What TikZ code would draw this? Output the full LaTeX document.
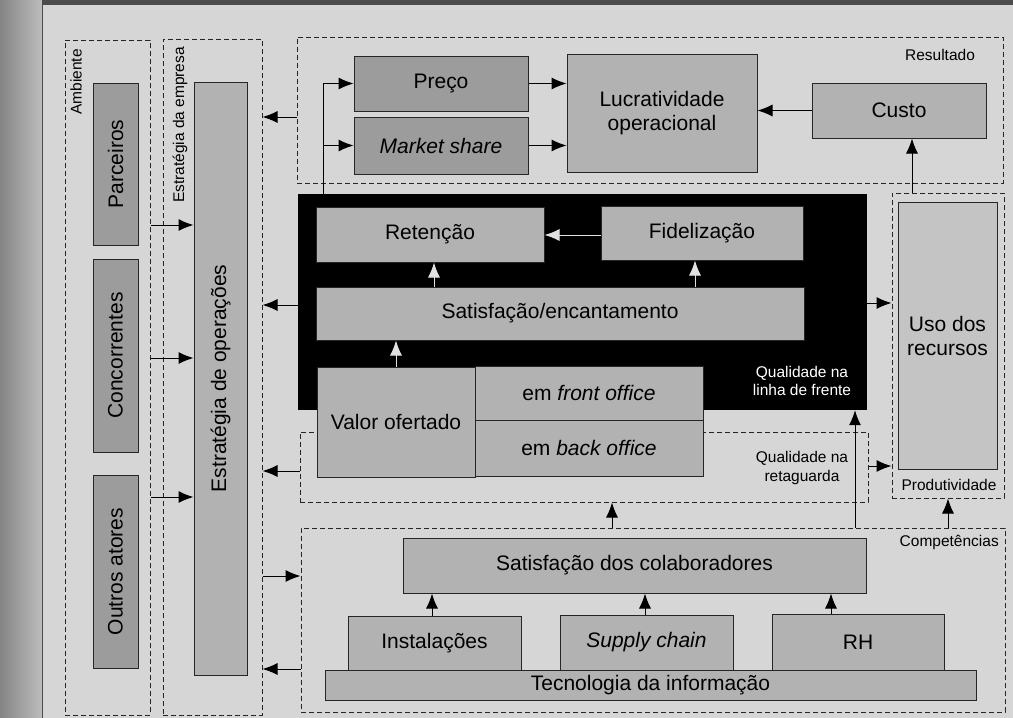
\documentclass[tikz,border=0pt]{standalone}
\usepackage{fontspec}
\setmainfont{Liberation Sans}
\usetikzlibrary{arrows.meta}

\definecolor{scanbg}{gray}{0.84}
\definecolor{stripdark}{gray}{0.52}
\definecolor{striplight}{gray}{0.74}
\definecolor{boxdark}{gray}{0.61}
\definecolor{boxmid}{gray}{0.70}
\definecolor{boxlight}{gray}{0.77}

\tikzset{
  region/.style={draw=black!85, dash pattern=on 5pt off 3pt, line width=1pt, inner sep=0pt},
  block/.style={draw=black!85, line width=1pt, fill=boxmid, inner sep=0pt,
    align=center, font=\fontsize{21}{24}\selectfont},
  darkblock/.style={block, fill=boxdark},
  tag/.style={inner sep=0pt, align=center, font=\fontsize{15.5}{18.5}\selectfont},
  arr/.style={-{Latex[length=15pt,width=12pt]}, line width=1pt},
  warr/.style={arr, draw=white!88!black}
}

\begin{document}
\begin{tikzpicture}[x=1pt, y=-1pt]
  \useasboundingbox (0,0) rectangle (1013,718);
  % Scanned page
  \fill[scanbg] (0,0) rectangle (1013,718);
  \shade[left color=stripdark, right color=striplight] (0,0) rectangle (42,718);
  \fill[gray!60!black] (42,0) rectangle (1013,5);
  \draw[black!70, line width=1pt] (42,5) -- (42,718);

  % Dashed regions
  \node[region, minimum width=85pt, minimum height=675pt] (amb) at (107.5,377.5) {};
  \node[region, minimum width=99pt, minimum height=676pt] (emp) at (212.5,377) {};
  \node[region, minimum width=706pt, minimum height=146pt] (res) at (650,110) {};
  \node[region, minimum width=112pt, minimum height=305pt] (prod) at (948,345.5) {};
  \node[region, minimum width=568pt, minimum height=70pt] (retag) at (584,467) {};
  \node[region, minimum width=704pt, minimum height=184pt] (comp) at (653,620) {};
  \node[fill=black, inner sep=0pt, minimum width=569pt, minimum height=216pt] (linha) at (582.5,302) {};

  % Region labels
  \node[tag, rotate=90] (ambtag) at (76,82) {Ambiente};
  \node[tag, rotate=90] (emptag) at (180,125) {Estratégia da empresa};
  \node[tag] (restag) at (940,55) {Resultado};
  \node[tag, text=white] (linhatag) at (802,381) {Qualidade na\\linha de frente};
  \node[tag] (retagtag) at (802,468) {Qualidade na\\retaguarda};
  \node[tag] (prodtag) at (949,485) {Produtividade};
  \node[tag, anchor=east] (comptag) at (999,542) {Competências};

  % Environment and strategy
  \node[darkblock, minimum width=45pt, minimum height=162pt] (parc) at (115.5,164) {\rotatebox{90}{Parceiros}};
  \node[darkblock, minimum width=45pt, minimum height=193pt] (conc) at (115.5,355.5) {\rotatebox{90}{Concorrentes}};
  \node[darkblock, minimum width=45pt, minimum height=193pt] (outros) at (115.5,571.5) {\rotatebox{90}{Outros atores}};
  \node[block, minimum width=53pt, minimum height=593pt] (estop) at (220.5,378.5) {\rotatebox{90}{Estratégia de operações}};

  % Result
  \node[darkblock, minimum width=174pt, minimum height=55pt] (preco) at (441,83.5) {Preço};
  \node[darkblock, minimum width=174pt, minimum height=57pt] (mkt) at (441,145.5) {\textit{Market share}};
  \node[block, minimum width=190pt, minimum height=118pt] (lucro) at (662,113) {Lucratividade\\operacional};
  \node[block, minimum width=174pt, minimum height=55pt] (custo) at (899,110.5) {Custo};

  % Front line
  \node[block, minimum width=228pt, minimum height=55pt] (ret) at (430,234.5) {Retenção};
  \node[block, minimum width=202pt, minimum height=54pt] (fid) at (702,233) {Fidelização};
  \node[block, minimum width=488pt, minimum height=53pt] (satis) at (560,313.5) {Satisfação/encantamento};
  \node[block, minimum width=158pt, minimum height=110pt] (valor) at (396,422) {Valor ofertado};
  \node[block, minimum width=228pt, minimum height=54pt] (front) at (589,393) {em \textit{front office}};
  \node[block, minimum width=228pt, minimum height=56pt] (back) at (589,448) {em \textit{back office}};
  \node[block, fill=boxlight, minimum width=99pt, minimum height=267pt] (uso) at (947.5,335.5) {Uso dos\\recursos};

  % Competences
  \node[block, minimum width=463pt, minimum height=55pt] (colab) at (634.5,565.5) {Satisfação dos colaboradores};
  \node[block, minimum width=651pt, minimum height=30pt] (ti) at (650.5,685) {Tecnologia da informação};
  \node[block, minimum width=173pt, minimum height=54pt] (inst) at (434.5,643) {Instalações};
  \node[block, minimum width=173pt, minimum height=55pt] (supply) at (646.5,642.5) {\textit{Supply chain}};
  \node[block, minimum width=172pt, minimum height=56pt] (rh) at (858,642) {RH};

  % Environment to operations strategy
  \foreach \y in {225,358,497}
    \draw[arr] (amb.east |- 0,\y) -- (estop.west |- 0,\y);
  % Feedback to company strategy
  \foreach \src/\y in {res/117, linha/305, retag/471, comp/669}
    \draw[arr] (\src.west |- 0,\y) -- (emp.east |- 0,\y);
  \draw[arr] (emp.east |- 0,576) -- (comp.west |- 0,576);

  % Result links
  \draw[arr] (linha.north -| 323,0) |- (preco.west);
  \draw[arr] (mkt.west -| 323,0) -- (mkt.west);
  \draw[arr] (preco.east) -- (preco.east -| lucro.west);
  \draw[arr] (mkt.east) -- (mkt.east -| lucro.west);
  \draw[arr] (custo.west) -- (custo.west -| lucro.east);
  \draw[arr] (prod.north -| 912,0) -- (custo.south -| 912,0);

  % Front line links
  \draw[warr] (fid.west |- 0,235) -- (ret.east |- 0,235);
  \draw[warr] (satis.north -| 434,0) -- (ret.south -| 434,0);
  \draw[warr] (satis.north -| 695,0) -- (fid.south -| 695,0);
  \draw[warr] (valor.north) -- (valor.north |- satis.south);

  % Productivity
  \draw[arr] (linha.east |- 0,303) -- (prod.west |- 0,303);
  \draw[arr] (retag.east |- 0,466) -- (prod.west |- 0,466);

  % Competences upwards
  \draw[arr] (comp.north -| 612,0) -- (retag.south -| 612,0);
  \draw[arr] (comp.north -| 855,0) -- (linha.south -| 855,0);
  \draw[arr] (comp.north -| prod.south) -- (prod.south);
  \foreach \src/\x in {inst/432, supply/645, rh/831}
    \draw[arr] (\src.north -| \x,0) -- (colab.south -| \x,0);
\end{tikzpicture}
\end{document}
